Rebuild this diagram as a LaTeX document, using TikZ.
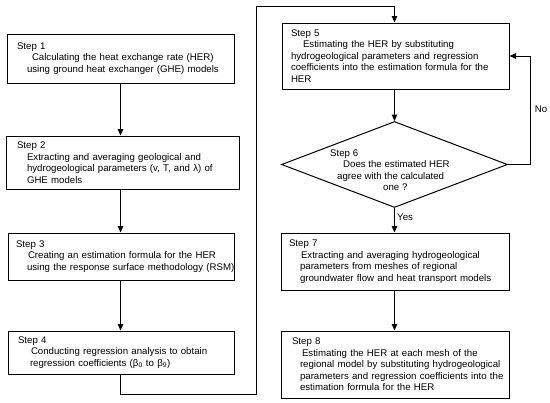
\documentclass[tikz,border=0pt]{standalone}
\usepackage{fontspec}
\setmainfont{Liberation Sans}
\usetikzlibrary{arrows.meta,shapes.geometric}
\newcommand\tl[2]{\hspace*{#1bp}\mbox{#2}}
\begin{document}
\begin{tikzpicture}[x=1bp,y=-1bp,
  every node/.style={font=\fontsize{9.7}{11.5}\selectfont},
  stepbox/.style={draw, line width=1bp, align=left, inner xsep=0pt, inner ysep=0pt, anchor=north west},
  sbox/.style 2 args={stepbox, text width=#1bp, minimum width=#1bp, minimum height=#2bp},
  conn/.style={line width=1bp},
  arr/.style={conn, -{Triangle[length=6.5bp,width=5.5bp]}},
  lbl/.style={inner sep=0pt}]
\useasboundingbox[fill=white] (0,0) rectangle (550,402);

\node[sbox={227}{49}] (s1) at (6.5,33.5) {\tl{10}{Step 1}\\\tl{25}{Calculating the heat exchange rate (HER)}\\\tl{20}{using ground heat exchanger (GHE) models}};
\node[sbox={233}{53}] (s2) at (5.5,135.5) {\tl{11}{Step 2}\\\tl{21}{Extracting and averaging  geological and}\\\tl{21}{hydrogeological parameters (v, T, and λ) of}\\\tl{21}{GHE models}};
\node[sbox={226}{47}] (s3) at (7.5,232.5) {\tl{8}{Step 3}\\\tl{20}{Creating an estimation formula for the HER}\\\tl{19}{using the response surface methodology (RSM)}};
\node[sbox={226}{43}] (s4) at (7.5,330.5) {\tl{10}{Step 4}\\\tl{23}{Conducting regression analysis to obtain}\\\tl{22}{regression coefficients (β\textsubscript{0} to β\textsubscript{9})}};
\node[sbox={227}{66}] (s5) at (281.5,22.5) {\tl{9}{Step 5}\\\tl{21}{Estimating the HER by substituting}\\\tl{9}{hydrogeological parameters and regression}\\\tl{9}{coefficients into the estimation formula for the}\\\tl{9}{HER}};
\node[draw, diamond, line width=1bp, minimum width=226bp, minimum height=86bp, inner sep=0pt] (d6) at (394.5,164.5) {};
\node[lbl, align=left, anchor=north west] (t6) at (330,149.5) {\tl{0}{Step 6}\\\tl{13}{Does the estimated HER}\\\tl{7}{agree with the calculated}\\\tl{53}{one ?}};
\node[sbox={228}{57}] (s7) at (280.5,232.5) {\tl{8}{Step 7}\\\tl{20}{Extracting and averaging  hydrogeological}\\\tl{19}{parameters from meshes of regional}\\\tl{19}{groundwater flow and heat transport models}};
\node[sbox={228}{67}] (s8) at (280.5,330.5) {\tl{11}{Step 8}\\\tl{21}{Estimating the HER at each mesh of the}\\\tl{19}{regional model by substituting hydrogeological}\\\tl{19}{parameters and regression coefficients into the}\\\tl{19}{estimation formula for the HER}};

\coordinate (xL) at (120.5,0);
\coordinate (xR) at (394.5,0);
\coordinate (lc) at (256.5,394.5);
\coordinate (ld) at (256.5,6.5);
\coordinate (nc) at (530.5,0);

\draw[arr] (s1.south -| xL) -- (s2.north -| xL);
\draw[arr] (s2.south -| xL) -- (s3.north -| xL);
\draw[arr] (s3.south -| xL) -- (s4.north -| xL);
\draw[arr] (s4.south -| xL) |- (lc) -- (ld) -| (s5.north -| xR);
\draw[arr] (s5.south -| xR) -- (d6.north);
\draw[arr] (d6.east) -- (d6.east -| nc) |- (s5.east);
\draw[arr] (d6.south) -- (s7.north -| xR);
\draw[arr] (s7.south -| xR) -- (s8.north -| xR);

\node[lbl] (no) at (541,109) {No};
\node[lbl, anchor=west] (yes) at (397,217) {Yes};
\end{tikzpicture}
\end{document}
